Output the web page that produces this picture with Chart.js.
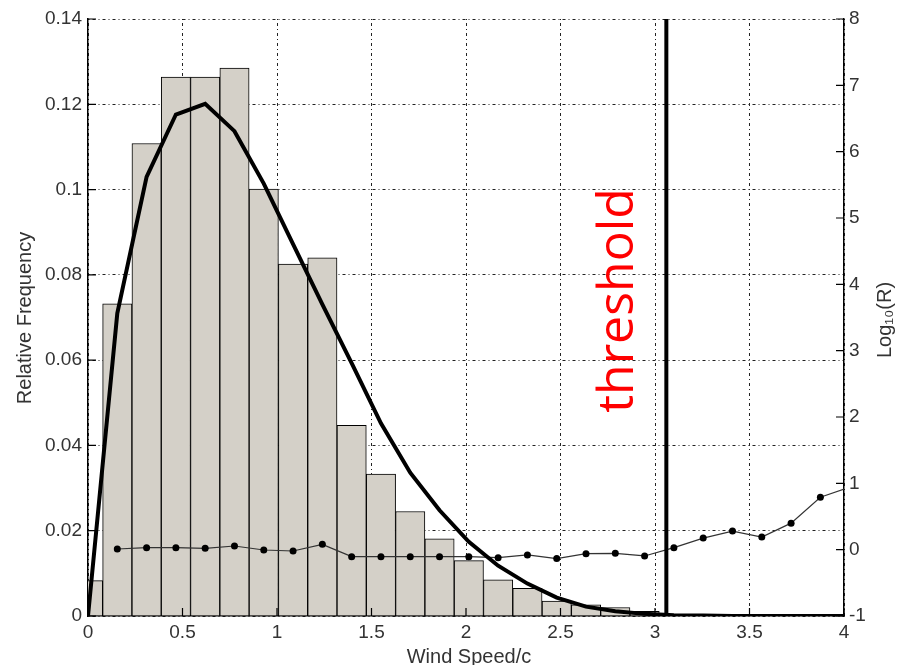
<!DOCTYPE html>
<html>
<head>
<meta charset="utf-8">
<script src="https://cdn.jsdelivr.net/npm/chart.js@4.4.1/dist/chart.umd.min.js"></script>
<style>
  html, body { margin: 0; padding: 0; background: #fff; }
  #wrap { width: 900px; height: 665px; }
</style>
</head>
<body>
<div id="wrap"><canvas id="chart"></canvas></div>
<script>
// histogram bins (centres, Wind Speed/c) and relative frequency
const binCenters = [0, 0.155, 0.31, 0.465, 0.62, 0.775, 0.93, 1.085, 1.24, 1.395,
  1.55, 1.705, 1.86, 2.015, 2.17, 2.325, 2.48, 2.635, 2.79, 2.945];
const relFreq = [0.0083, 0.0732, 0.1108, 0.1264, 0.1264, 0.1285, 0.1001, 0.0825, 0.0840, 0.0447,
  0.0333, 0.0245, 0.0181, 0.0130, 0.0085, 0.0065, 0.0035, 0.0026, 0.0020, 0.0011];

// fitted curve
const curveX = [0, 0.155, 0.31, 0.465, 0.62, 0.775, 0.93, 1.085, 1.24, 1.395,
  1.55, 1.705, 1.86, 2.015, 2.17, 2.325, 2.48, 2.635, 2.79, 2.945,
  3.1, 3.255, 3.41, 3.565, 3.72, 3.875, 4.03];
const curveY = [0, 0.071, 0.103, 0.1176, 0.1201, 0.1137, 0.1014, 0.0872, 0.0731, 0.0593,
  0.0452, 0.0336, 0.0248, 0.0174, 0.0118, 0.0076, 0.0043, 0.0022, 0.0011, 0.0005,
  0.0002, 0.0001, 0, 0, 0, 0, 0];

// log10(R), right axis
const logRX = [0.155, 0.31, 0.465, 0.62, 0.775, 0.93, 1.085, 1.24, 1.395,
  1.55, 1.705, 1.86, 2.015, 2.17, 2.325, 2.48, 2.635, 2.79, 2.945,
  3.1, 3.255, 3.41, 3.565, 3.72, 3.875, 4.03];
const logR = [0.01, 0.03, 0.03, 0.02, 0.055, -0.005, -0.02, 0.08, -0.105,
  -0.105, -0.105, -0.105, -0.105, -0.12, -0.08, -0.135, -0.06, -0.055, -0.095,
  0.03, 0.175, 0.28, 0.19, 0.40, 0.79, 0.94];

const thresholdX = 3.06;

const tickFont = { family: 'Liberation Sans, Arial, sans-serif', size: 19 };
const gridStyle = { color: '#222', lineWidth: 1, drawTicks: false };
const borderStyle = { color: '#000', width: 1.5, dash: [1, 3, 3, 3] };
const fmt = v => String(Math.round(v * 100) / 100);

const decor = {
  id: 'decor',
  afterDraw(chart) {
    const { ctx, chartArea: a, scales } = chart;
    ctx.save();
    ctx.strokeStyle = '#000';
    ctx.lineWidth = 1.2;
    ctx.beginPath();
    scales.y.ticks.forEach(t => {
      const p = scales.y.getPixelForValue(t.value);
      ctx.moveTo(a.left, p); ctx.lineTo(a.left + 8, p);
    });
    scales.y1.ticks.forEach(t => {
      const p = scales.y1.getPixelForValue(t.value);
      ctx.moveTo(a.right - 8, p); ctx.lineTo(a.right, p);
    });
    scales.x.ticks.forEach(t => {
      const p = scales.x.getPixelForValue(t.value);
      ctx.moveTo(p, a.bottom); ctx.lineTo(p, a.bottom - 8);
    });
    ctx.stroke();

    // threshold label
    const tx = scales.x.getPixelForValue(thresholdX) - 33;
    const ty = scales.y.getPixelForValue(0.074);
    ctx.fillStyle = '#ff0000';
    ctx.font = '50px "Open Sans", sans-serif';
    ctx.translate(tx, ty);
    ctx.rotate(-Math.PI / 2);
    ctx.textAlign = 'center';
    ctx.textBaseline = 'alphabetic';
    ctx.fillText('threshold', 0, 0);
    ctx.setTransform(1, 0, 0, 1, 0, 0);

    // axis titles
    ctx.fillStyle = '#333';
    ctx.font = '20px "Liberation Sans", Arial, sans-serif';
    ctx.textBaseline = 'middle';
    ctx.textAlign = 'center';
    ctx.fillText('Wind Speed/c', (a.left + a.right) / 2 + 3, 657);

    ctx.translate(25, 318);
    ctx.rotate(-Math.PI / 2);
    ctx.fillText('Relative Frequency', 0, 0);
    ctx.setTransform(1, 0, 0, 1, 0, 0);

    ctx.translate(885, 320);
    ctx.rotate(-Math.PI / 2);
    ctx.fillText('Log\u2081\u2080(R)', 0, 0);
    ctx.restore();
  }
};

new Chart(document.getElementById('chart'), {
  plugins: [decor],
  data: {
    datasets: [
      {
        type: 'line',
        data: [{ x: thresholdX, y: 0 }, { x: thresholdX, y: 0.14 }],
        borderColor: '#000',
        borderWidth: 4,
        pointRadius: 0,
        yAxisID: 'y',
        order: 1,
      },
      {
        type: 'line',
        data: curveX.map((x, i) => ({ x: x, y: curveY[i] })),
        borderColor: '#000',
        borderWidth: 4,
        pointRadius: 0,
        tension: 0,
        yAxisID: 'y',
        order: 2,
      },
      {
        type: 'line',
        data: logRX.map((x, i) => ({ x: x, y: logR[i] })),
        borderColor: '#333',
        borderWidth: 1.2,
        pointRadius: 3.5,
        pointBackgroundColor: '#000',
        pointBorderColor: '#000',
        pointBorderWidth: 0,
        yAxisID: 'y1',
        clip: 0,
        order: 3,
      },
      {
        type: 'bar',
        data: binCenters.map((x, i) => ({ x: x, y: relFreq[i] })),
        backgroundColor: '#d4d0c8',
        borderColor: '#000',
        borderWidth: 1,
        barPercentage: 1,
        categoryPercentage: 1,
        yAxisID: 'y',
        clip: 0,
        order: 4,
      },
    ]
  },
  options: {
    responsive: true,
    maintainAspectRatio: false,
    animation: false,
    layout: { padding: { top: 19, left: 0, right: 0, bottom: 0 } },
    plugins: {
      legend: { display: false },
      tooltip: { enabled: false },
    },
    scales: {
      x: {
        type: 'linear',
        min: 0,
        max: 4,
        offset: false,
        grid: { ...gridStyle, offset: false },
        border: borderStyle,
        ticks: {
          stepSize: 0.5,
          padding: 5,
          maxRotation: 0,
          color: '#333',
          font: tickFont,
          callback: fmt,
        },
        afterFit: function (scale) { scale.height = 49; },
      },
      y: {
        position: 'left',
        min: 0,
        max: 0.14,
        grid: gridStyle,
        border: borderStyle,
        ticks: {
          stepSize: 0.02,
          padding: 6,
          color: '#333',
          font: tickFont,
          callback: fmt,
        },
        afterFit: function (scale) { scale.width = 88; },
      },
      y1: {
        position: 'right',
        min: -1,
        max: 8,
        grid: { drawOnChartArea: false, drawTicks: false },
        border: { color: '#000', width: 1.5 },
        ticks: {
          stepSize: 1,
          padding: 5,
          color: '#333',
          font: tickFont,
        },
        afterFit: function (scale) { scale.width = 56; },
      },
    }
  },
});
</script>
</body>
</html>
